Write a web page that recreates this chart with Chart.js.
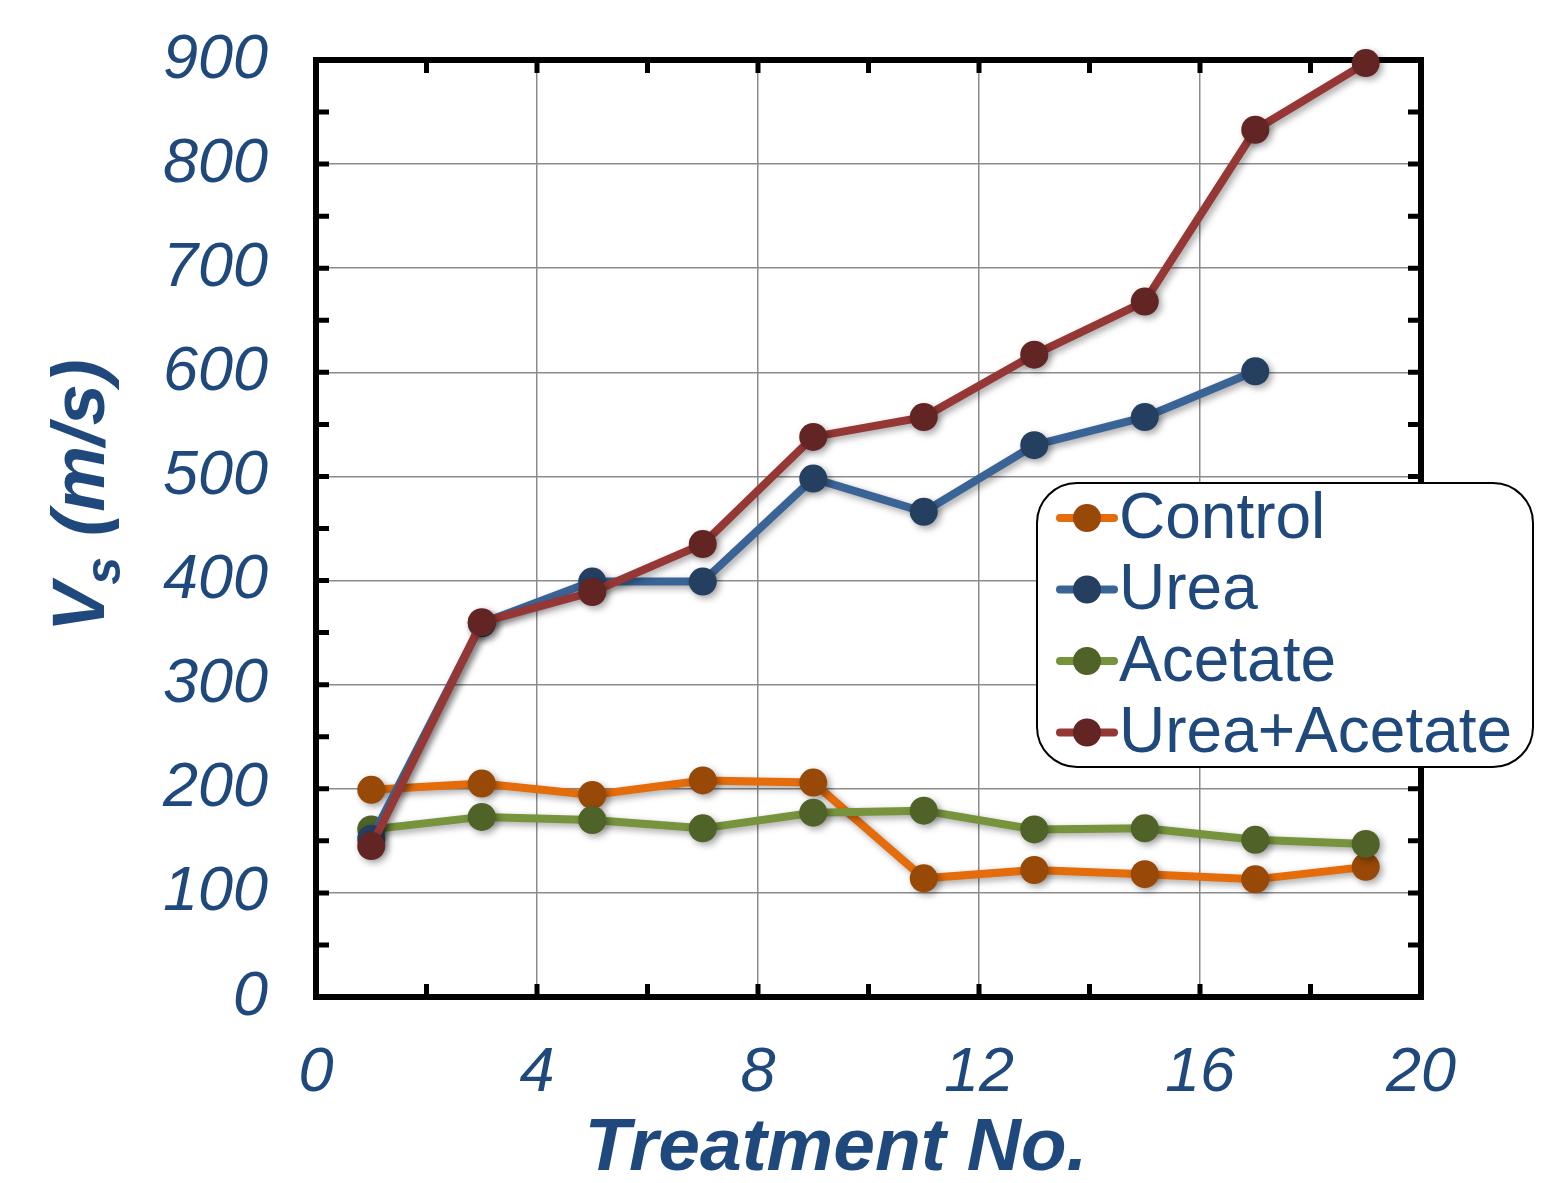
<!DOCTYPE html>
<html>
<head>
  <meta charset="utf-8">
  <title>Vs - Treatment No.</title>
  <script src="https://cdn.jsdelivr.net/npm/chart.js"></script>
  <style>
    * { margin: 0; padding: 0; box-sizing: border-box; }
    html, body { width: 100%; height: 100%; overflow: hidden; background: #fff; }
    #wrap { width: 1545px; height: 1183px; }
  </style>
</head>
<body>
  <div id="wrap"><canvas id="grafik"></canvas></div>

  <script>
    // data
    const treatment   = [1, 3, 5, 7, 9, 11, 13, 15, 17, 19];
    const control     = [199, 205, 194, 208, 206, 114, 122, 118, 113, 125];
    const urea        = [152, 359, 399, 399, 498, 466, 530, 557, 601];
    const acetate     = [161, 173, 170, 162, 177, 179, 161, 162, 151, 147];
    const ureaAcetate = [145, 360, 389, 435, 538, 557, 617, 668, 833, 897];

    const xMinorTicks = [2, 4, 6, 8, 10, 12, 14, 16, 18];
    const yMinorTicks = [50, 100, 150, 200, 250, 300, 350, 400, 450, 500, 550, 600, 650, 700, 750, 800, 850];

    const textBlue = '#1F497D';
    const font = 'Liberation Sans, Arial, sans-serif';

    function pts(vals) {
      return vals.map((v, i) => ({ x: treatment[i], y: v }));
    }

    function ds(label, vals, line, dot, order) {
      return {
        label: label,
        data: pts(vals),
        borderColor: line,
        backgroundColor: dot,
        pointBackgroundColor: dot,
        pointBorderColor: dot,
        borderWidth: 8,
        pointRadius: 14,
        pointBorderWidth: 0,
        tension: 0,
        clip: false,
        order: order
      };
    }

    // box, inward ticks, shadows, titles, legend
    const frame = {
      id: 'frame',
      beforeDatasetsDraw(chart) {
        const ctx = chart.ctx, a = chart.chartArea;
        const xs = chart.scales.x, ys = chart.scales.y;
        ctx.save();
        ctx.strokeStyle = '#000';
        ctx.lineWidth = 5;
        const t = 13;
        xMinorTicks.forEach(v => {
          const px = xs.getPixelForValue(v);
          ctx.beginPath();
          ctx.moveTo(px, a.bottom); ctx.lineTo(px, a.bottom - t);
          ctx.moveTo(px, a.top); ctx.lineTo(px, a.top + t);
          ctx.stroke();
        });
        yMinorTicks.forEach(v => {
          const py = ys.getPixelForValue(v);
          ctx.beginPath();
          ctx.moveTo(a.left, py); ctx.lineTo(a.left + t, py);
          ctx.moveTo(a.right, py); ctx.lineTo(a.right - t, py);
          ctx.stroke();
        });
        ctx.lineWidth = 6;
        ctx.strokeRect(a.left, a.top, a.right - a.left, a.bottom - a.top);
        ctx.restore();

        ctx.save();
        ctx.shadowColor = 'rgba(0,0,0,0.35)';
        ctx.shadowBlur = 7;
        ctx.shadowOffsetX = 3;
        ctx.shadowOffsetY = 3;
      },
      afterDatasetsDraw(chart) {
        chart.ctx.restore();
      },
      afterDraw(chart) {
        const ctx = chart.ctx;

        // x title
        ctx.save();
        ctx.fillStyle = textBlue;
        ctx.textAlign = 'center';
        ctx.textBaseline = 'middle';
        ctx.font = 'italic bold 75px ' + font;
        ctx.fillText('Treatment No.', 836, 1149);
        ctx.restore();

        // y title with subscript
        ctx.save();
        ctx.translate(104, 632);
        ctx.rotate(-Math.PI / 2);
        ctx.fillStyle = textBlue;
        ctx.textBaseline = 'alphabetic';
        ctx.textAlign = 'left';
        ctx.font = 'italic bold 74px ' + font;
        ctx.fillText('V', 0, 0);
        let w = ctx.measureText('V').width;
        ctx.font = 'italic bold 50px ' + font;
        ctx.fillText('s', w - 2, 16);
        w += ctx.measureText('s').width - 2;
        ctx.font = 'italic bold 74px ' + font;
        ctx.fillText(' (m/s)', w, 0);
        ctx.restore();

        // legend box
        const bx = 1037, by = 483, bw = 496, bh = 284, r = 40;
        ctx.save();
        ctx.beginPath();
        ctx.roundRect(bx, by, bw, bh, r);
        ctx.fillStyle = '#fff';
        ctx.fill();
        ctx.lineWidth = 2;
        ctx.strokeStyle = '#000';
        ctx.stroke();
        ctx.font = '64px ' + font;
        ctx.textBaseline = 'middle';
        ctx.textAlign = 'left';
        chart.data.datasets.forEach((d, i) => {
          const cy = 518 + i * 71.5;
          ctx.strokeStyle = d.borderColor;
          ctx.lineWidth = 8;
          ctx.lineCap = 'round';
          ctx.beginPath();
          ctx.moveTo(1060, cy); ctx.lineTo(1114, cy);
          ctx.stroke();
          ctx.fillStyle = d.pointBackgroundColor;
          ctx.beginPath();
          ctx.arc(1087, cy, 14, 0, Math.PI * 2);
          ctx.fill();
          ctx.fillStyle = textBlue;
          ctx.fillText(d.label, 1119, cy + 2);
        });
        ctx.restore();
      }
    };

    const ctx = document.getElementById('grafik').getContext('2d');
    const chart = new Chart(ctx, {
      type: 'line',
      data: {
        datasets: [
          ds('Control', control, '#E46C0A', '#984807', 3),
          ds('Urea', urea, '#3A6496', '#243F60', 1),
          ds('Acetate', acetate, '#77933C', '#4F6228', 2),
          ds('Urea+Acetate', ureaAcetate, '#953735', '#632523', 0)
        ]
      },
      options: {
        responsive: true,
        maintainAspectRatio: false,
        animation: false,
        layout: { padding: { top: 60, right: 124, left: 0, bottom: 0 } },
        scales: {
          x: {
            type: 'linear',
            min: 0,
            max: 20,
            afterFit(s) { s.height = 186; s.paddingLeft = 0; s.paddingRight = 0; },
            border: { display: false },
            grid: { color: '#8c8c8c', lineWidth: 1.5, drawTicks: false },
            ticks: {
              stepSize: 4,
              padding: 39,
              color: textBlue,
              font: { family: font, size: 63, style: 'italic' }
            }
          },
          y: {
            min: 0,
            max: 900,
            afterFit(s) { s.width = 316; s.paddingTop = 0; s.paddingBottom = 0; },
            border: { display: false },
            grid: { color: '#8c8c8c', lineWidth: 1.5, drawTicks: false },
            ticks: {
              stepSize: 100,
              padding: 48,
              color: textBlue,
              font: { family: font, size: 63, style: 'italic' }
            }
          }
        },
        plugins: {
          legend: { display: false },
          tooltip: { enabled: false }
        }
      },
      plugins: [frame]
    });
  </script>
</body>
</html>
